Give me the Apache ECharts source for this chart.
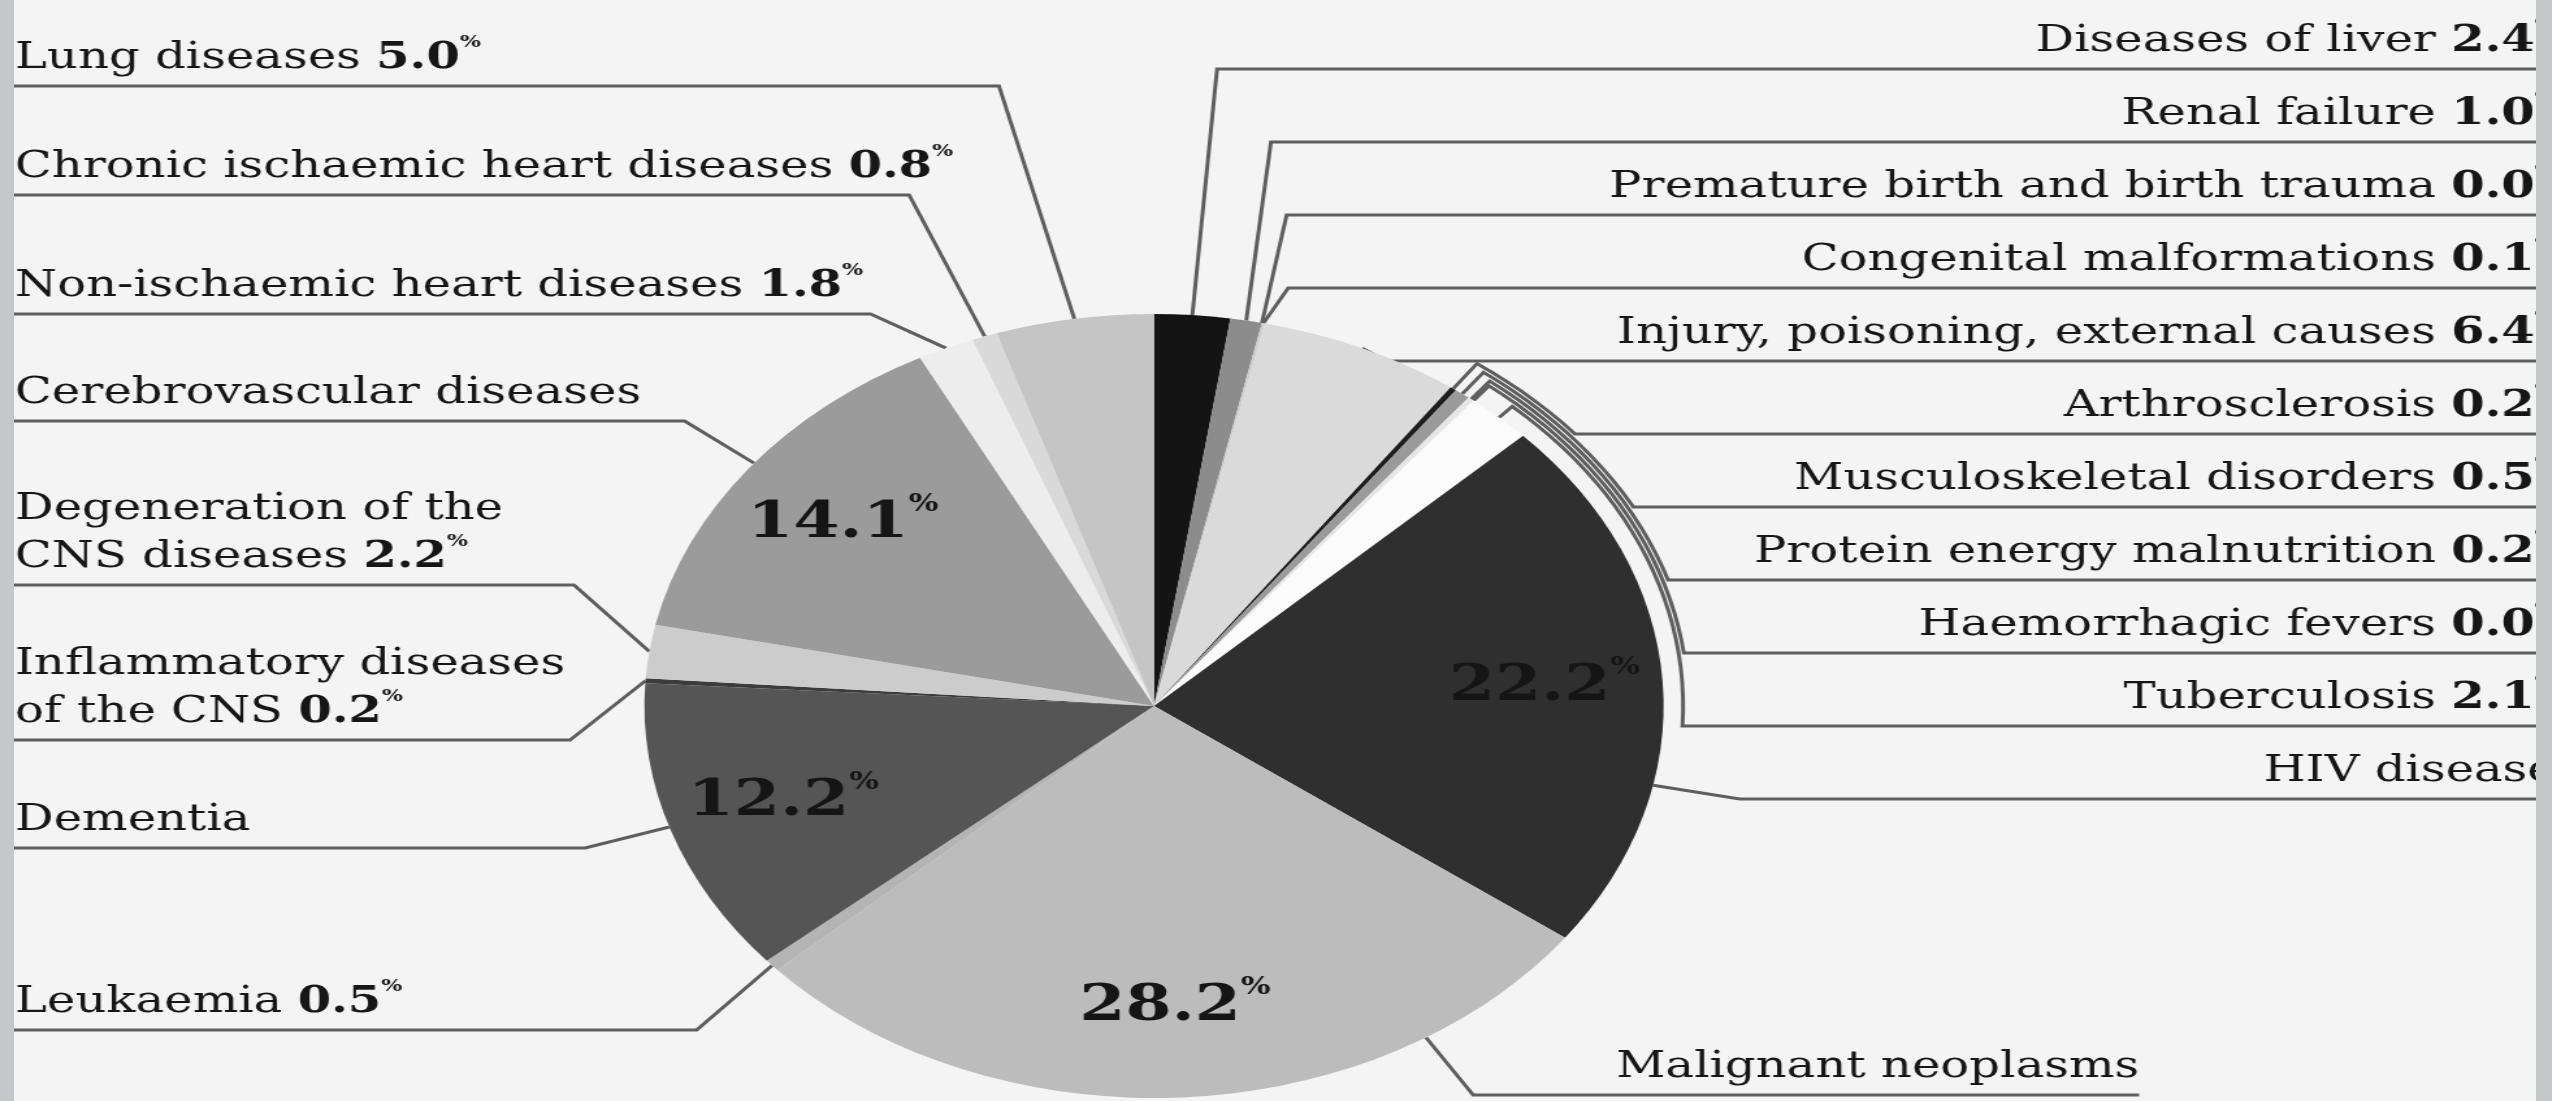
<!DOCTYPE html>
<html>
<head>
<meta charset="utf-8">
<title>Causes of death</title>
<script src="https://cdn.jsdelivr.net/npm/echarts@6/dist/echarts.min.js"></script>
<style>
  html, body { margin: 0; padding: 0; width: 2552px; height: 1101px; overflow: hidden; background: #f4f4f4; }
  /* the chart is laid out on a narrower canvas and stretched to the page width */
  #chart { position: absolute; left: 0; top: 0; width: 1963px; height: 1101px; transform: scaleX(1.3); transform-origin: 0 0; }
  .frame { position: absolute; top: 0; height: 1101px; background: #c5c8c8; }
</style>
</head>
<body>
<div id="chart"></div>
<div class="frame" style="left:0;width:14px"></div>
<div class="frame" style="left:2536px;width:16px"></div>
<script>
// ---- data ----
const causes = [
  'Diseases of liver',
  'Renal failure',
  'Premature birth and birth trauma',
  'Congenital malformations',
  'Injury, poisoning, external causes',
  'Arthrosclerosis',
  'Musculoskeletal disorders',
  'Protein energy malnutrition',
  'Haemorrhagic fevers',
  'Tuberculosis',
  'HIV disease',
  'Malignant neoplasms',
  'Leukaemia',
  'Dementia',
  'Inflammatory diseases\nof the CNS',
  'Degeneration of the\nCNS diseases',
  'Cerebrovascular diseases',
  'Non-ischaemic heart diseases',
  'Chronic ischaemic heart diseases',
  'Lung diseases'
];
const shares = [2.4, 1.0, 0.0, 0.1, 6.4, 0.2, 0.5, 0.2, 0.0, 2.1, 22.2, 28.2, 0.5, 12.2, 0.2, 2.2, 14.1, 1.8, 0.8, 5.0];
// causes whose share is printed inside the slice instead of after the name
const valueInside = [10, 11, 13, 16];

// ---- styles ----
const sliceColors = [
  '#141414', '#8c8c8c', '#bdbdbd', '#cfcfcf', '#dadada',
  '#1e1e1e', '#9a9a9a', '#e6e6e6', '#bbbbbb', '#fbfbfb',
  '#2f2f2f', '#bcbcbc', '#b4b4b4', '#555555', '#3c3c3c',
  '#cccccc', '#9b9b9b', '#ededed', '#d9d9d9', '#c5c5c5'
];
const FONT = 'DejaVu Serif';
const TEXT = '#161616';
const LINE = '#5e5e5e';

// ---- layout (canvas px, before the horizontal stretch) ----
const STRETCH = 1.3;
const CX = 1154 / STRETCH, CY = 706, R = 392;
const ELBOW_R = 460;                 // leader lines of the big slices bend on this circle
const ELBOW_OFF = { right: 19, left: 58 };
const RIGHT_ROW_TOP = 69, RIGHT_ROW_STEP = 73;
const leftRowY = [86, 195, 314, 421, 585, 740, 848, 1030];   // top to bottom
const LEFT_TEXT_X = 11.5, RIGHT_TEXT_END = 1966, FOOTER_GAP = 110;

const total = shares.reduce((a, b) => a + b, 0);
const spans = [];
let acc = 0;
shares.forEach(v => { const a0 = acc / total * 360; acc += v; spans.push([a0, acc / total * 360]); });

const toRad = d => d * Math.PI / 180;
const onCircle = (deg, r) => [CX + r * Math.sin(toRad(deg)), CY - r * Math.cos(toRad(deg))];
const midOf = i => (spans[i][0] + spans[i][1]) / 2;

function planLabels(H) {
  const right = [], left = [];
  causes.forEach((c, i) => (midOf(i) < 180 ? right : left).push(i));
  left.reverse();
  const plans = [];
  right.forEach((i, k) => {
    const footer = k === right.length - 1;
    plans[i] = { side: 'right', footer, rowY: footer ? H - 6 : RIGHT_ROW_TOP + k * RIGHT_ROW_STEP };
  });
  left.forEach((i, k) => { plans[i] = { side: 'left', footer: false, rowY: leftRowY[k] }; });

  plans.forEach((p, i) => {
    const dir = p.side === 'right' ? 1 : -1;
    const [a0, a1] = spans[i];
    const mid = midOf(i);
    const big = shares[i] >= 10;
    const dy = p.rowY - CY;
    let attachDeg = mid, ex;
    if (big && Math.abs(dy) < ELBOW_R) {
      ex = CX + dir * Math.sqrt(ELBOW_R * ELBOW_R - dy * dy);
      let t = Math.atan2(ex - CX, -dy) * 180 / Math.PI;
      if (t < 0) t += 360;
      attachDeg = Math.min(a1, Math.max(a0, t));
    } else {
      ex = onCircle(mid, R)[0] + dir * ELBOW_OFF[p.side];
    }
    p.mid = mid;
    p.attach = onCircle(attachDeg, R);
    p.elbow = [ex, p.rowY];
    p.wrap = p.side === 'right' && !big && p.rowY > p.attach[1] + 20;
  });

  // lines of small slices pushed below their slice run around the rim, nested
  const wrapped = plans.map((p, i) => i).filter(i => plans[i].wrap)
    .sort((a, b) => plans[b].rowY - plans[a].rowY);
  wrapped.forEach((i, rank) => {
    const p = plans[i];
    const rr = R + 15 + 4 * rank;
    const dy = p.rowY - CY;
    const endDeg = Math.acos((CY - p.rowY) / rr) * 180 / Math.PI;
    const pts = [p.attach, onCircle(p.mid, rr)];
    for (let d = p.mid + 2; d < endDeg; d += 2) pts.push(onCircle(d, rr));
    p.elbow = [CX + Math.sqrt(rr * rr - dy * dy), p.rowY];
    pts.push(p.elbow);
    p.path = pts;
  });
  plans.forEach(p => { if (!p.path) p.path = [p.attach, p.elbow]; });
  return plans;
}

const chart = echarts.init(document.getElementById('chart'), null, { renderer: 'canvas' });
const plans = planLabels(chart.getHeight());

function outerLabel(p) {
  const i = p.dataIndex;
  const lines = causes[i].split('\n');
  if (valueInside.includes(i)) return lines.map(l => '{t|' + l + '}').join('\n');
  const last = lines.length - 1;
  return lines.map((l, k) => k === last
    ? '{t|' + l + ' }{b|' + shares[i].toFixed(1) + '}{s|%}'
    : '{t|' + l + '}').join('\n');
}

function placeLabel(params) {
  const i = params.dataIndex;
  const p = plans[i];
  const rect = params.labelRect;
  const W = chart.getWidth();
  let left;
  if (p.side === 'left') left = LEFT_TEXT_X;
  else if (p.footer) left = p.elbow[0] + FOOTER_GAP;
  else left = RIGHT_TEXT_END - rect.width;
  const lines = causes[i].split('\n').length;
  const cy = p.rowY - 28 - 24 * (lines - 1);
  let x = left;
  if (params.align === 'right') x = left + rect.width;
  else if (params.align === 'center') x = left + rect.width / 2;
  let y = cy;
  if (params.verticalAlign === 'top') y = cy - rect.height / 2;
  else if (params.verticalAlign === 'bottom') y = cy + rect.height / 2;
  const end = p.side === 'left' ? -5 : (p.footer ? left + rect.width : W + 5);
  return { x, y, labelLinePoints: p.path.concat([[end, p.rowY]]) };
}

const sliceData = causes.map((c, i) => ({ name: c, value: shares[i], itemStyle: { color: sliceColors[i] } }));

chart.setOption({
  animation: false,
  backgroundColor: 'transparent',
  series: [
    {
      type: 'pie',
      center: [CX, CY],
      radius: R,
      startAngle: 90,
      clockwise: true,
      avoidLabelOverlap: false,
      silent: true,
      data: sliceData,
      itemStyle: { borderWidth: 0 },
      label: {
        show: true,
        position: 'outer',
        alignTo: 'edge',
        edgeDistance: 10,
        formatter: outerLabel,
        rich: {
          t: { fontFamily: FONT, fontSize: 37, lineHeight: 48, color: TEXT, align: 'left' },
          b: { fontFamily: FONT, fontSize: 37, lineHeight: 48, fontWeight: 'bold', color: TEXT, align: 'left' },
          s: { fontFamily: FONT, fontSize: 17, lineHeight: 30, fontWeight: 'bold', color: TEXT, verticalAlign: 'top', align: 'left' }
        }
      },
      labelLine: { show: true, length: 10, length2: 10, smooth: false, lineStyle: { color: LINE, width: 3 } },
      labelLayout: placeLabel
    },
    {
      type: 'pie',
      center: [CX, CY],
      radius: [R * 0.52, R],
      startAngle: 90,
      clockwise: true,
      silent: true,
      avoidLabelOverlap: false,
      data: causes.map((c, i) => ({ name: c, value: shares[i] })),
      itemStyle: { color: 'rgba(0,0,0,0)', borderWidth: 0 },
      label: {
        show: true,
        position: 'inside',
        formatter: p => valueInside.includes(p.dataIndex)
          ? '{v|' + shares[p.dataIndex].toFixed(1) + '}{p|%}' : '',
        rich: {
          v: { fontFamily: FONT, fontSize: 51, lineHeight: 62, fontWeight: 'bold', color: '#151515' },
          p: { fontFamily: FONT, fontSize: 24, lineHeight: 36, fontWeight: 'bold', color: '#151515', verticalAlign: 'top' }
        }
      },
      labelLine: { show: false }
    }
  ]
});
</script>
</body>
</html>
